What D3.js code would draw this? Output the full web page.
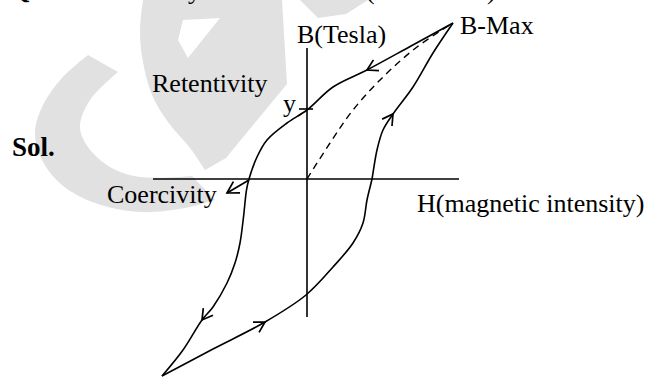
<!DOCTYPE html>
<html lang="en">
<head>
<meta charset="utf-8">
<script src="https://d3js.org/d3.v7.min.js"></script>
<style>
  body {margin: 0; background: #fff;}
  svg text {font-family: "Liberation Serif", "Times New Roman", serif; font-size: 26px; fill: #000;}
  .axis {stroke: #000; stroke-width: 1.6px;}
  .loop {fill: none; stroke: #000; stroke-width: 1.6px;}
  .initial {fill: none; stroke: #000; stroke-width: 1.4px; stroke-dasharray: 7,5;}
  .arrow {fill: none; stroke: #000; stroke-width: 1.7px;}
  .mark {fill: #e1e1e1; stroke: none;}
  .hole {fill: #fff; stroke: none;}
</style>
</head>
<body>
<svg width="651" height="377" id="svg-container"></svg>
<script>
  // H and B values (arbitrary units)
  const hRange = [-15.4, 15.2];
  const bRange = [13.1, -13.8];
  const bMax = [14.6, 15.6];
  const retentivity = 6.9;
  const coercivity = -5.8;

  // B-Max -> negative saturation
  const descending = [
    [14.6, 15.6], [10.4, 13.3], [6.0, 10.9], [2.6, 9.2], [0, 6.9], [-2.0, 5.6],
    [-4.0, 3.9], [-5.0, 2.2], [-5.8, 0], [-6.05, -1.1], [-6.35, -3.8], [-6.7, -6.4],
    [-7.2, -8.4], [-8.0, -10.4], [-9.4, -12.8], [-10.5, -14.1], [-12.4, -17.1], [-14.5, -19.7]
  ];
  // negative saturation -> B-Max
  const ascending = [
    [-14.5, -19.7], [-9.4, -17.0], [-4.2, -14.3], [-0.1, -11.6], [2.6, -8.8], [4.6, -6.4],
    [5.6, -4.4], [6.0, -2.1], [6.5, 0], [6.6, 0.6], [7.0, 2.9], [7.6, 4.9], [8.6, 6.5],
    [10.6, 9.2], [12.6, 12.6], [14.6, 15.6]
  ];
  // first magnetisation curve
  const initial = [[0, 0], [2.3, 3.6], [4.6, 6.9], [7.6, 10.2], [11.0, 13.2], [14.6, 15.6]];

  // arrow heads: which curve, at which point, pointing along the curve
  const arrows = [
    {curve: "descending", at: 2},
    {curve: "descending", at: 15},
    {curve: "ascending", at: 2},
    {curve: "ascending", at: 12}
  ];

  const labels = ["B(Tesla)", "B-Max", "Retentivity", "y", "Coercivity", "H(magnetic intensity)"];

  let svg = d3.select("svg#svg-container");

  // layout
  const plot = {left: 153, right: 459, top: 48, bottom: 317};
  let x = d3.scaleLinear().domain(hRange).range([plot.left, plot.right]);
  let y = d3.scaleLinear().domain(bRange).range([plot.top, plot.bottom]);

  // watermark (light grey logo behind the figure)
  const wm = svg.append("g");
  const edge = d3.line().curve(d3.curveCatmullRom);
  function band(outer, inner, straight) {
    const second = straight ? "L" + inner.join("L") : "L" + edge(inner).slice(1);
    return edge(outer) + second + "Z";
  }
  wm.append("path").attr("class", "mark")
    .attr("d", band(
      [[88, 55], [62, 78], [43, 105], [35, 133], [42, 160], [62, 185], [95, 203], [140, 212], [185, 208], [215, 200]],
      [[192, 176], [140, 177], [110, 167], [88, 147], [80, 127], [90, 100], [118, 72]]));
  wm.append("path").attr("class", "mark")
    .attr("d", band(
      [[143, 0], [140, 32], [143, 62], [152, 95], [168, 122], [190, 148], [205, 170]],
      [[226, 158], [287, 84], [282, 0]], true));
  wm.append("path").attr("class", "hole")
    .attr("d", "M" + [[183, 20], [220, 18], [188, 58], [178, 40]].join("L") + "Z");
  wm.append("path").attr("class", "mark")
    .attr("d", "M" + [[300, 0], [368, 0], [346, 14], [318, 18]].join("L") + "Z");

  // axes
  svg.append("line").attr("class", "axis")
    .attr("x1", x(0)).attr("x2", x(0)).attr("y1", plot.top).attr("y2", plot.bottom);
  svg.append("line").attr("class", "axis")
    .attr("x1", plot.left).attr("x2", plot.right).attr("y1", y(0)).attr("y2", y(0));
  // tick at the retentivity point
  svg.append("line").attr("class", "axis")
    .attr("x1", x(0) - 8).attr("x2", x(0) + 6).attr("y1", y(retentivity) - 1).attr("y2", y(retentivity) - 1);

  const line = d3.line().x(d => x(d[0])).y(d => y(d[1])).curve(d3.curveCatmullRom.alpha(0.5));
  const curves = {descending, ascending};

  const paths = {};
  Object.keys(curves).forEach(k => {
    paths[k] = svg.append("path").attr("class", "loop").attr("d", line(curves[k]));
  });
  svg.append("path").attr("class", "initial").attr("d", line(initial));

  // open arrow head drawn as a chevron
  function chevron(tx, ty, angle, len) {
    const a1 = angle + Math.PI - Math.PI / 6, a2 = angle + Math.PI + Math.PI / 6;
    return "M" + (tx + len * Math.cos(a1)) + "," + (ty + len * Math.sin(a1)) +
      "L" + tx + "," + ty +
      "L" + (tx + len * Math.cos(a2)) + "," + (ty + len * Math.sin(a2));
  }

  arrows.forEach(a => {
    const node = paths[a.curve].node();
    const p = curves[a.curve][a.at];
    const px = x(p[0]), py = y(p[1]);
    const total = node.getTotalLength();
    let best = 0, bestD = Infinity;
    for (let s = 0; s <= total; s += 0.5) {
      const q = node.getPointAtLength(s);
      const d = (q.x - px) ** 2 + (q.y - py) ** 2;
      if (d < bestD) { bestD = d; best = s; }
    }
    const q0 = node.getPointAtLength(Math.max(0, best - 2));
    const q1 = node.getPointAtLength(Math.min(total, best + 2));
    const ang = Math.atan2(q1.y - q0.y, q1.x - q0.x);
    svg.append("path").attr("class", "arrow").attr("d", chevron(px, py, ang, 12));
  });

  // coercivity pointer
  const cx0 = x(coercivity), cy0 = y(0) + 1;
  const cx1 = cx0 - 22, cy1 = cy0 + 13;
  svg.append("line").attr("class", "arrow").attr("x1", cx0).attr("y1", cy0).attr("x2", cx1).attr("y2", cy1);
  svg.append("path").attr("class", "arrow").attr("d", chevron(cx1, cy1, Math.atan2(cy1 - cy0, cx1 - cx0), 13));

  // labels
  svg.append("text").attr("x", 297).attr("y", 43).text(labels[0]);
  svg.append("text").attr("x", x(bMax[0]) + 7).attr("y", 34).text(labels[1]);
  svg.append("text").attr("x", 152).attr("y", 92).text(labels[2]);
  svg.append("text").attr("x", 296).attr("y", 112).attr("text-anchor", "end").text(labels[3]);
  svg.append("text").attr("x", 107).attr("y", 203).text(labels[4]);
  svg.append("text").attr("x", 417).attr("y", 212).text(labels[5]);
  svg.append("text").attr("x", 12).attr("y", 156).style("font-weight", "bold").style("font-size", "27px").text("Sol.");

  // the line above is cut off by the top edge in the reference; only descenders show
  const topLine = svg.append("g").style("font-size", "26px");
  topLine.append("text").attr("x", 10).attr("y", -2).style("font-weight", "bold").text("Q.");
  topLine.append("text").attr("x", 188).attr("y", -1).text("y");
  topLine.append("text").attr("x", 366).attr("y", -1).text("(");
  topLine.append("text").attr("x", 487).attr("y", -1).text(")");
</script>
</body>
</html>
